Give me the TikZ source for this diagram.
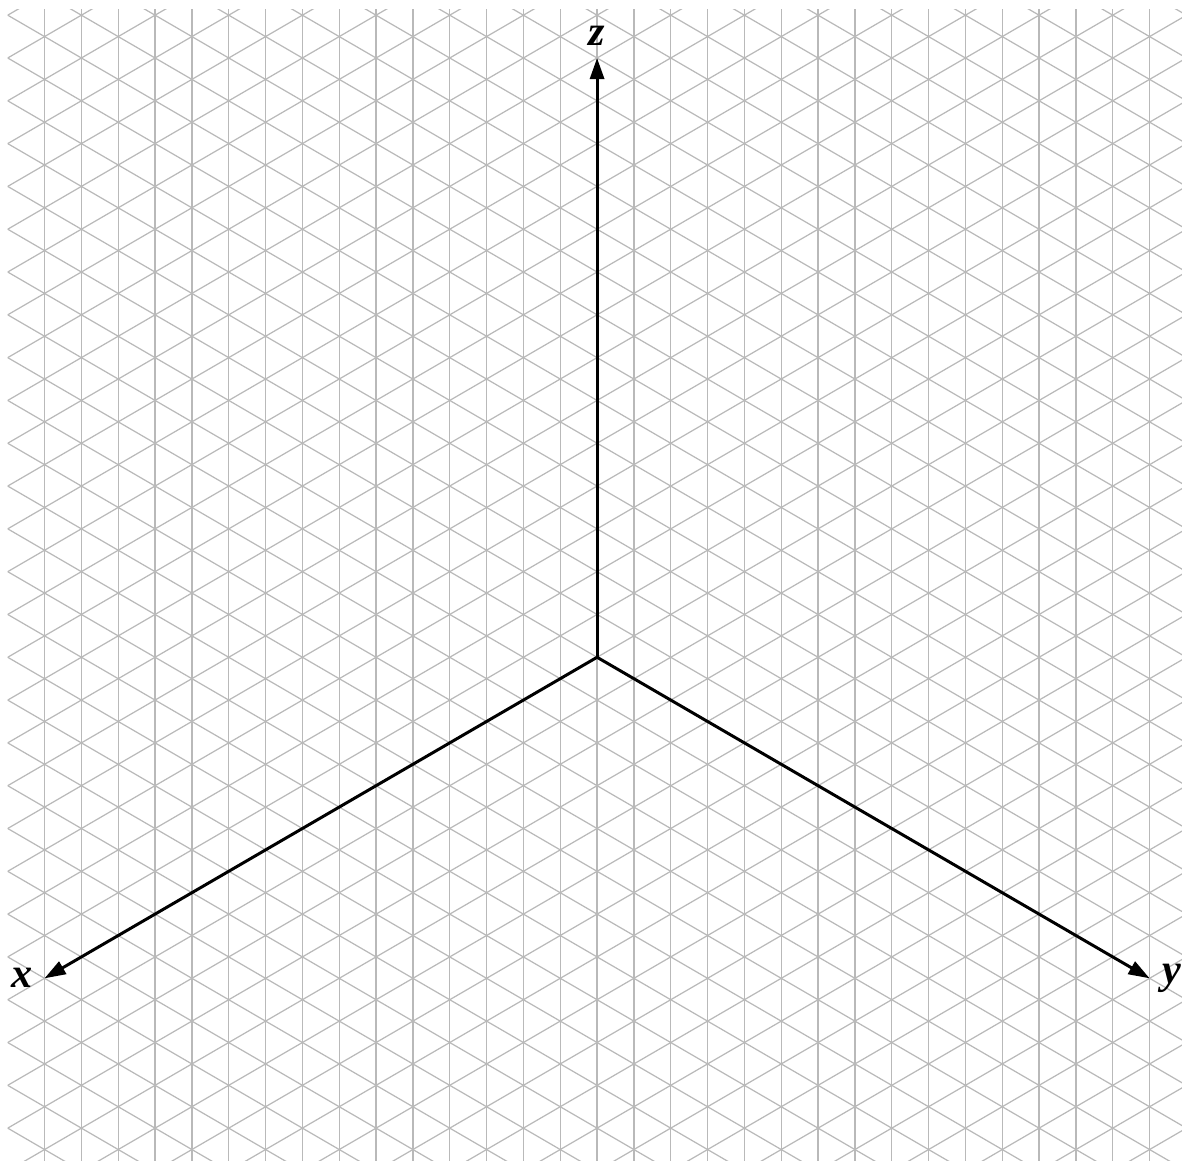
\documentclass[tikz,border=0pt]{standalone}
\usepackage{fontspec}
\setmainfont{Liberation Serif}
\usepackage{tikz}
\usetikzlibrary{arrows.meta}

\begin{document}
\begin{tikzpicture}[x=0.3683cm, y=0.214cm,
  gridline/.style={gray!55, line width=0.35pt},
  axis/.style={line width=0.85pt, -{Triangle[length=6pt,width=4pt]}},
  axislabel/.style={font=\large\bfseries\itshape}]
\useasboundingbox (-16.21,-23.49) rectangle (15.88,30.71);
% isometric grid
\begin{scope}
\clip (-16,-24) rectangle (16.5,30.25);
\foreach \i in {-15,...,16}
  \draw[gridline] (\i,-24) -- (\i,31);
\foreach \c in {-40,-38,...,48} {
  \draw[gridline] (-16,\c-16) -- (16,\c+16);
  \draw[gridline] (-16,\c+16) -- (16,\c-16);
}
\end{scope}
% axes
\coordinate (O) at (0,0);
\coordinate (X) at (-15,-15);
\coordinate (Y) at (15,-15);
\coordinate (Z) at (0,28);
\draw[axis] (O) -- (X);
\draw[axis] (O) -- (Y);
\draw[axis] (O) -- (Z);
\node[axislabel, left] (xlabel) at (X) {x};
\node[axislabel, right] (ylabel) at (Y) {y};
\node[axislabel, above] (zlabel) at (Z) {z};
\end{tikzpicture}
\end{document}
